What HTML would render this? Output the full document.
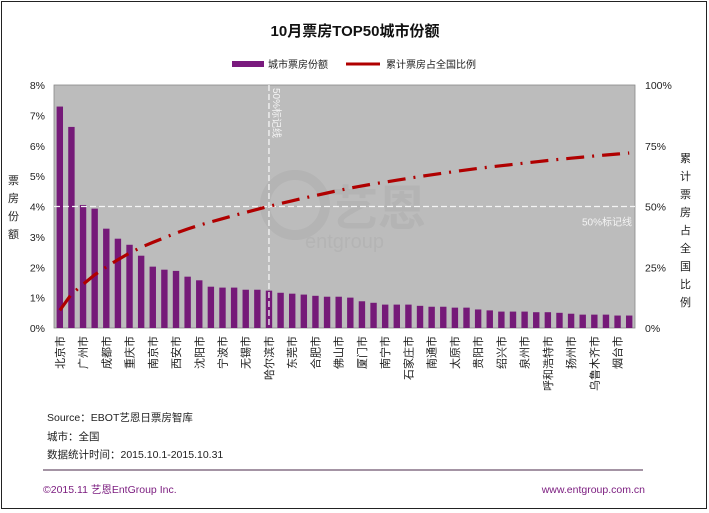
<!DOCTYPE html>
<html><head><meta charset="utf-8"><style>
body{margin:0;background:#fff;}
svg{display:block;font-family:"Liberation Sans","Noto Sans CJK SC",sans-serif;}
</style></head><body>
<svg id="chart" width="709" height="513" xmlns="http://www.w3.org/2000/svg">
<rect x="1.5" y="1.5" width="705" height="507" fill="#fff" stroke="#222" stroke-width="1"/>
<text x="355" y="36" text-anchor="middle" font-size="15" font-weight="bold" fill="#111">10月票房TOP50城市份额</text>
<g>
<rect x="232" y="61" width="32" height="6" fill="#7a1a7e"/>
<text x="268" y="68" font-size="10" fill="#222">城市票房份额</text>
<line x1="346" y1="64" x2="380" y2="64" stroke="#b00000" stroke-width="3"/>
<text x="386" y="68" font-size="10" fill="#222">累计票房占全国比例</text>
</g>
<rect x="54" y="85" width="581" height="243" fill="#bcbcbc" stroke="#888" stroke-width="0.8"/>
<g opacity="0.22">
<circle cx="295" cy="205" r="30" fill="none" stroke="#999" stroke-width="10"/>
<text x="330" y="225" font-size="48" font-weight="bold" fill="#999">艺恩</text>
<text x="305" y="248" font-size="20" fill="#999">entgroup</text>
</g>
<g id="bars"></g>
<g id="axes"></g>
<g id="line"></g>
<text font-size="11" fill="#222"><tspan x="8" y="184">票</tspan><tspan x="8" y="202">房</tspan><tspan x="8" y="220">份</tspan><tspan x="8" y="238">额</tspan></text>
<text font-size="11" fill="#222"><tspan x="680" y="162">累</tspan><tspan x="680" y="180">计</tspan><tspan x="680" y="198">票</tspan><tspan x="680" y="216">房</tspan><tspan x="680" y="234">占</tspan><tspan x="680" y="252">全</tspan><tspan x="680" y="270">国</tspan><tspan x="680" y="288">比</tspan><tspan x="680" y="306">例</tspan></text>
<text x="47" y="421" font-size="10.5" fill="#222">Source：EBOT艺恩日票房智库</text>
<text x="47" y="440" font-size="10.5" fill="#222">城市：全国</text>
<text x="47" y="458" font-size="10.5" fill="#222">数据统计时间：2015.10.1-2015.10.31</text>
<line x1="43" y1="470" x2="643" y2="470" stroke="#4a2a4a" stroke-width="1"/>
<text x="43" y="493" font-size="10.5" fill="#7a1a7e">©2015.11 艺恩EntGroup Inc.</text>
<text x="645" y="493" text-anchor="end" font-size="10.5" fill="#7a1a7e">www.entgroup.com.cn</text>
</svg>
<script>
const categories=["北京市","上海市","广州市","深圳市","成都市","武汉市","重庆市","杭州市","南京市","苏州市","西安市","天津市","沈阳市","长沙市","宁波市","郑州市","无锡市","青岛市","哈尔滨市","福州市","东莞市","大连市","合肥市","济南市","佛山市","昆明市","厦门市","长春市","南宁市","温州市","石家庄市","南昌市","南通市","惠州市","太原市","常州市","贵阳市","中山市","绍兴市","嘉兴市","泉州市","金华市","呼和浩特市","兰州市","扬州市","珠海市","乌鲁木齐市","江门市","烟台市","徐州市"];
const shareValues=[7.29,6.62,4.05,3.93,3.27,2.94,2.74,2.38,2.02,1.92,1.88,1.69,1.57,1.36,1.33,1.33,1.26,1.26,1.23,1.16,1.13,1.10,1.06,1.03,1.03,1.00,0.88,0.83,0.77,0.77,0.77,0.73,0.70,0.70,0.67,0.67,0.61,0.58,0.54,0.54,0.54,0.52,0.52,0.50,0.47,0.44,0.44,0.44,0.41,0.41];
const cumulativeValues=[7.29,13.91,17.96,21.89,25.16,28.10,30.84,33.22,35.24,37.16,39.04,40.73,42.30,43.66,44.99,46.32,47.58,48.84,50.07,51.23,52.36,53.46,54.52,55.55,56.58,57.58,58.46,59.29,60.06,60.83,61.60,62.33,63.03,63.73,64.40,65.07,65.68,66.26,66.80,67.34,67.88,68.40,68.92,69.42,69.89,70.33,70.77,71.21,71.62,72.03];
const leftTicks=[0,1,2,3,4,5,6,7,8];
const rightTicks=[0,25,50,75,100];
const markerIndex=18;
const markerPct=50;

const NS="http://www.w3.org/2000/svg";
const X0=54,X1=635,Y0=328,Y1=85;
const band=(X1-X0)/categories.length;
const xC=i=>X0+band*(i+0.5);
const yL=v=>Y0-(v/8)*(Y0-Y1);
const yR=v=>Y0-(v/100)*(Y0-Y1);
function mk(tag,attrs,parent){const e=document.createElementNS(NS,tag);for(const k in attrs)e.setAttribute(k,attrs[k]);parent.appendChild(e);return e;}
const gB=document.getElementById('bars'),gA=document.getElementById('axes'),gL=document.getElementById('line');
shareValues.forEach((v,i)=>{
 const r=mk('rect',{x:xC(i)-3.2,y:yL(v),width:6.4,height:Y0-yL(v),fill:'#751a78'},gB);
 
 
});
categories.forEach((c,i)=>{
 if(i%2!==0)return;
 const t=mk('text',{x:0,y:0,transform:`translate(${xC(i)+4},336) rotate(-90)`,'text-anchor':'end','font-size':'11',fill:'#222'},gA);
 t.textContent=c;
 
 
});
leftTicks.forEach(v=>{
 const t=mk('text',{x:45,y:yL(v)+4,'text-anchor':'end','font-size':'10.5',fill:'#222'},gA);
 t.textContent=v+'%';
 
 
});
rightTicks.forEach(v=>{
 const t=mk('text',{x:645,y:yR(v)+4,'font-size':'10.5',fill:'#222'},gA);
 t.textContent=v+'%';
 
 
});
const hl=mk('line',{x1:X0,x2:X1,y1:yR(markerPct),y2:yR(markerPct),stroke:'#f4f4f4','stroke-width':1.3,'stroke-dasharray':'6,3'},gA);


const ht=mk('text',{x:632,y:yR(markerPct)+19,'text-anchor':'end','font-size':'10',fill:'#f4f4f4'},gA);
ht.textContent='50%标记线';


const vx=xC(markerIndex);
const vl=mk('line',{x1:vx,x2:vx,y1:Y1,y2:Y0,stroke:'#f4f4f4','stroke-width':1.3,'stroke-dasharray':'6,3'},gA);


const vt=mk('text',{x:0,y:0,transform:`translate(${vx+4},88) rotate(90)`,'font-size':'10',fill:'#f4f4f4'},gA);
vt.textContent='50%标记线';


const pts=cumulativeValues.map((v,i)=>xC(i).toFixed(1)+','+yR(v).toFixed(1)).join(' ');
const pl=mk('polyline',{points:pts,fill:'none',stroke:'#b00000','stroke-width':3.2,'stroke-dasharray':'18,8,2,8','stroke-linecap':'butt'},gL);


</script>
</body></html>
